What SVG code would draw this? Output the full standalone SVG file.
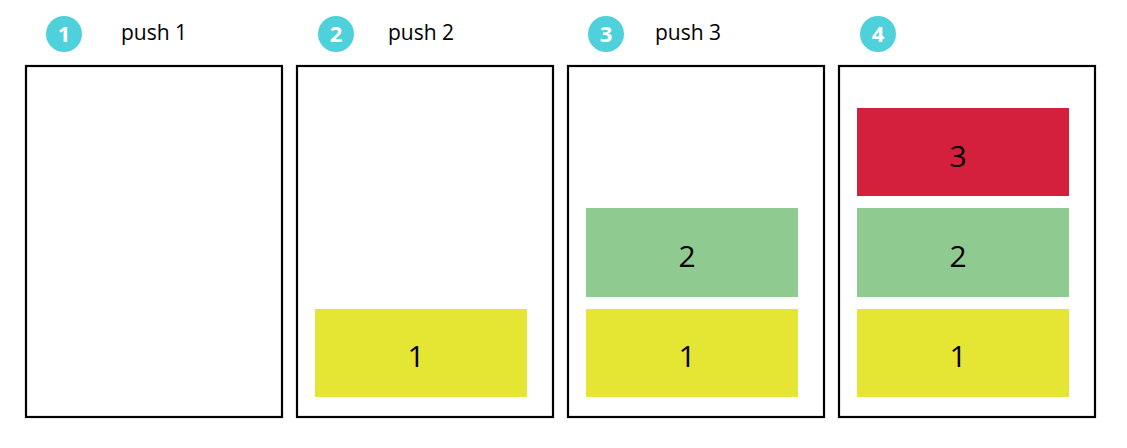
<svg xmlns="http://www.w3.org/2000/svg" width="1127" height="448" viewBox="0 0 1127 448">
<style>
.frame{fill:none;stroke:#000;stroke-width:2.2}
.badge{fill:#4fd1db}
.bn{font-family:"Open Sans","Liberation Sans",sans-serif;font-weight:bold;font-size:22px;fill:#fff;text-anchor:middle}
.lbl{font-family:"Open Sans","Liberation Sans",sans-serif;font-size:21px;fill:#000}
.num{font-family:"Open Sans","Liberation Sans",sans-serif;font-size:30px;fill:#000;text-anchor:middle}
.y{fill:#e5e534}
.g{fill:#8fca91}
.r{fill:#d4203d}
</style>
<rect width="1127" height="448" fill="#fff"/>
<g id="step1">
<circle class="badge" cx="64" cy="34" r="18"/><text class="bn" x="64" y="42">1</text>
<text class="lbl" x="121" y="40">push 1</text>
<rect class="frame" x="26" y="66" width="256" height="351"/>
</g>
<g id="step2">
<circle class="badge" cx="336" cy="34" r="18"/><text class="bn" x="336" y="42">2</text>
<text class="lbl" x="388" y="40">push 2</text>
<rect class="frame" x="297" y="66" width="256" height="351"/>
<g id="s2b1"><rect class="y" x="315" y="309" width="212" height="88"/><text class="num" x="416" y="367">1</text></g>
</g>
<g id="step3">
<circle class="badge" cx="606" cy="34" r="18"/><text class="bn" x="606" y="42">3</text>
<text class="lbl" x="655" y="40">push 3</text>
<rect class="frame" x="568" y="66" width="256" height="351"/>
<g id="s3b2"><rect class="g" x="586" y="208" width="212" height="89"/><text class="num" x="687" y="267">2</text></g>
<g id="s3b1"><rect class="y" x="586" y="309" width="212" height="88"/><text class="num" x="687" y="367">1</text></g>
</g>
<g id="step4">
<circle class="badge" cx="878" cy="34" r="18"/><text class="bn" x="878" y="42">4</text>
<rect class="frame" x="839" y="66" width="256" height="351"/>
<g id="s4b3"><rect class="r" x="857" y="108" width="212" height="88"/><text class="num" x="958" y="167">3</text></g>
<g id="s4b2"><rect class="g" x="857" y="208" width="212" height="89"/><text class="num" x="958" y="267">2</text></g>
<g id="s4b1"><rect class="y" x="857" y="309" width="212" height="88"/><text class="num" x="958" y="367">1</text></g>
</g>
<g id="connectors"/>
</svg>
